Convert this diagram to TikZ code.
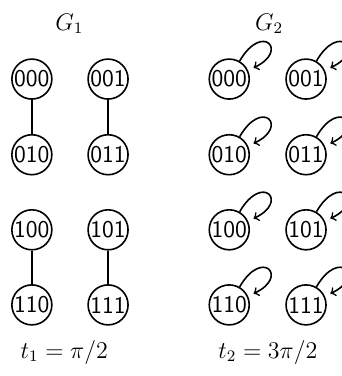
\documentclass[tikz,border=0pt]{standalone}
\begin{document}
\begin{tikzpicture}[vertex/.style={draw,circle,thick,inner sep=0pt,minimum size=20pt,font=\large\sffamily},
  selfloop/.style={->,thick,loop,out=60,in=25,min distance=8mm,looseness=1,shorten >=3pt}]
\useasboundingbox (0,0) rectangle (6,-6.61);
% G_1
\node at (1.22,-0.42) {\large $G_1$};
\node[vertex] (a000) at (0.56,-1.39) {000};
\node[vertex] (a001) at (1.90,-1.39) {001};
\node[vertex] (a010) at (0.56,-2.72) {010};
\node[vertex] (a011) at (1.90,-2.72) {011};
\node[vertex] (a100) at (0.56,-4.04) {100};
\node[vertex] (a101) at (1.90,-4.04) {101};
\node[vertex] (a110) at (0.56,-5.36) {110};
\node[vertex] (a111) at (1.90,-5.36) {111};
\draw[thick] (a000) -- (a010);
\draw[thick] (a001) -- (a011);
\draw[thick] (a100) -- (a110);
\draw[thick] (a101) -- (a111);
\node (t1) at (1.13,-6.19) {\large $t_1=\pi/2$};
% G_2
\node at (4.73,-0.42) {\large $G_2$};
\node[vertex] (b000) at (4.03,-1.39) {000};
\node[vertex] (b001) at (5.38,-1.39) {001};
\node[vertex] (b010) at (4.03,-2.72) {010};
\node[vertex] (b011) at (5.38,-2.72) {011};
\node[vertex] (b100) at (4.03,-4.04) {100};
\node[vertex] (b101) at (5.38,-4.04) {101};
\node[vertex] (b110) at (4.03,-5.36) {110};
\node[vertex] (b111) at (5.38,-5.36) {111};
\path (b000) edge[selfloop] (b000);
\path (b001) edge[selfloop] (b001);
\path (b010) edge[selfloop] (b010);
\path (b011) edge[selfloop] (b011);
\path (b100) edge[selfloop] (b100);
\path (b101) edge[selfloop] (b101);
\path (b110) edge[selfloop] (b110);
\path (b111) edge[selfloop] (b111);
\node (t2) at (4.71,-6.19) {\large $t_2=3\pi/2$};
\end{tikzpicture}
\end{document}
